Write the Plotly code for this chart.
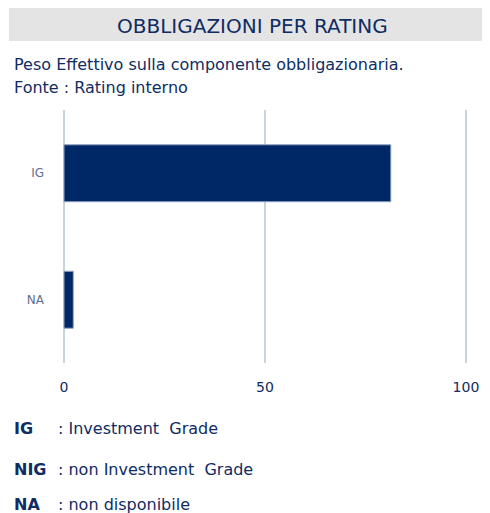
import plotly.graph_objects as go

# dati
categories = ["IG", "NA"]
values = [81.3, 2.3]
x_ticks = [0, 50, 100]

legend_keys = ["IG", "NIG", "NA"]
legend_texts = [": Investment\u00a0 Grade", ": non Investment\u00a0 Grade", ": non disponibile"]

# la pagina ha un margine di 8px attorno al grafico
OFF = 8
W, H = 482, 505
L, R, T, B = 52, 20, 102, 150
FONT = "DejaVu Sans"
NAVY = "#0f2c63"


def px_x(px):
    return (px - OFF - L) / (W - L - R)


def px_y(py):
    return (H - B - (py - OFF)) / (H - T - B)


fig = go.Figure()

fig.add_trace(go.Bar(
    x=values,
    y=categories,
    orientation="h",
    width=0.45,
    marker=dict(color="#002766", line=dict(color="#8ea3bf", width=1)),
    hoverinfo="x+y",
))

# barra del titolo
fig.add_shape(type="rect", xref="paper", yref="paper",
              x0=px_x(9), x1=px_x(495), y0=px_y(41), y1=px_y(8),
              fillcolor="#e4e4e4", line_width=0, layer="below")

annotations = [
    dict(text="OBBLIGAZIONI PER RATING", x=px_x(252), y=px_y(26),
         xanchor="center", yanchor="middle", font=dict(size=20, color=NAVY)),
    dict(text="Peso Effettivo sulla componente obbligazionaria.", x=px_x(12), y=px_y(65),
         xanchor="left", yanchor="middle", font=dict(size=16, color=NAVY)),
    dict(text="Fonte : Rating interno", x=px_x(12), y=px_y(87),
         xanchor="left", yanchor="middle", font=dict(size=16, color=NAVY)),
]

legend_y = [428, 469, 505]
for key, txt, yy in zip(legend_keys, legend_texts, legend_y):
    annotations.append(dict(text="<b>" + key + "</b>", x=px_x(12), y=px_y(yy),
                            xanchor="left", yanchor="middle",
                            font=dict(size=16, color=NAVY)))
    annotations.append(dict(text=txt, x=px_x(56), y=px_y(yy),
                            xanchor="left", yanchor="middle",
                            font=dict(size=16, color=NAVY)))

for a in annotations:
    a.update(xref="paper", yref="paper", showarrow=False)

fig.update_layout(
    width=W, height=H,
    margin=dict(l=L, r=R, t=T, b=B),
    paper_bgcolor="white",
    plot_bgcolor="white",
    font=dict(family=FONT, color=NAVY),
    showlegend=False,
    annotations=annotations,
    xaxis=dict(
        range=[-1, 101],
        tickvals=x_ticks,
        showgrid=True,
        gridcolor="#c8d4dc",
        gridwidth=2,
        zeroline=False,
        showline=False,
        ticks="",
        ticklabelstandoff=14,
        tickfont=dict(size=14, color=NAVY),
        fixedrange=True,
    ),
    yaxis=dict(
        range=[1.5, -0.5],
        showgrid=False,
        zeroline=False,
        showline=False,
        ticks="",
        ticklabelstandoff=15,
        tickfont=dict(size=12, color="#5f6f8f"),
        fixedrange=True,
    ),
)

fig.write_html("out.html")
